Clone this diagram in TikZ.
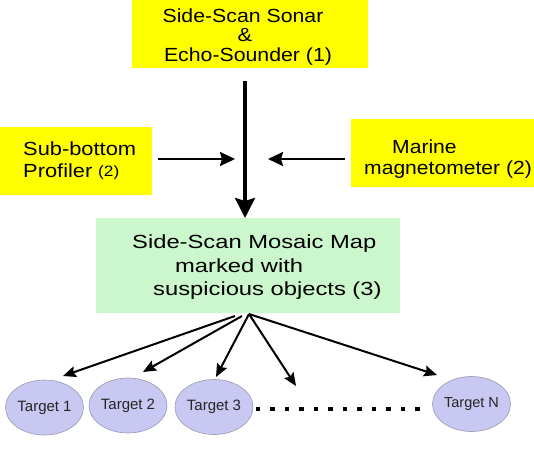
\documentclass[tikz,border=0pt]{standalone}
\usepackage{fontspec}
\usepackage{graphicx}
\setmainfont{Liberation Sans}
\usetikzlibrary{arrows.meta,shapes.geometric}
\definecolor{ybox}{HTML}{FFFF00}
\definecolor{gbox}{HTML}{CCF7CC}
\definecolor{efill}{HTML}{C8C8F2}
\definecolor{eline}{HTML}{9A9AB0}
\newcommand{\sx}[2]{\scalebox{#1}[1]{#2}}
\tikzset{
  yrect/.style={fill=ybox, draw=none, inner sep=0pt, anchor=north west},
  grect/.style={fill=gbox, draw=none, inner sep=0pt, anchor=north west},
  txt/.style={inner sep=0pt, font=\fontsize{19}{19}\selectfont},
  tgt/.style={ellipse, fill=efill, draw=eline, line width=0.6pt, inner sep=0pt,
    minimum width=78pt, minimum height=55pt, font=\fontsize{15}{15}\selectfont, text=black!85},
  bigarrow/.style={line width=3.5pt, -{Stealth[length=20pt,width=20pt,inset=3pt]}},
  midarrow/.style={line width=2.2pt, -{Stealth[length=15pt,width=14pt,inset=2pt]}},
  fanarrow/.style={line width=2pt, -{Stealth[length=13pt,width=11pt,inset=2pt]}}
}
\begin{document}
\begin{tikzpicture}[x=1pt,y=-1pt]
\useasboundingbox (0,0) rectangle (534,462);
% boxes
\node[yrect, minimum width=236pt, minimum height=68pt] (src) at (132,0) {};
\node[yrect, minimum width=152pt, minimum height=68pt] (sbp) at (0,127) {};
\node[yrect, minimum width=183pt, minimum height=68pt] (mag) at (351,119) {};
\node[grect, minimum width=304pt, minimum height=95pt] (map) at (96,218) {};
% texts
\node[txt, anchor=base] (s1) at (243,23) {\sx{1.12}{Side-Scan Sonar}};
\node[txt, anchor=base] (s2) at (245,42) {\sx{1.15}{\&}};
\node[txt, anchor=base] (s3) at (248,62) {\sx{1.12}{Echo-Sounder (1)}};
\node[txt, anchor=base west] (l1) at (23,156) {\sx{1.15}{Sub-bottom}};
\node[txt, anchor=base west] (l2) at (23,178) {\sx{1.15}{Profiler}};
\node[txt, anchor=base west, font=\fontsize{15}{15}\selectfont] (l3) at (98,177) {\sx{1.15}{(2)}};
\node[txt, anchor=base west] (r1) at (392,154) {\sx{1.11}{Marine}};
\node[txt, anchor=base west] (r2) at (364,175) {\sx{1.11}{magnetometer (2)}};
\node[txt, anchor=base west] (g1) at (132,248) {\sx{1.25}{Side-Scan Mosaic Map}};
\node[txt, anchor=base west] (g2) at (175,272) {\sx{1.25}{marked with}};
\node[txt, anchor=base west] (g3) at (153,295) {\sx{1.25}{suspicious objects (3)}};
% targets
\node[tgt] (t1) at (44.5,407.5) {Target 1};
\node[tgt] (t2) at (128,405.5) {Target 2};
\node[tgt] (t3) at (214,407) {Target 3};
\node[tgt, font=\fontsize{14.5}{14.5}\selectfont] (tn) at (471.5,404) {Target N};
% dots
\foreach \i in {0,...,11}{
  \fill (258+\i*14.5-2.3,409-2.3) rectangle ++(4.6,4.6);
}
% connectors
\coordinate (vtop) at (245,81);
\draw[bigarrow] (vtop) -- (vtop |- map.north);
\coordinate (hl1) at (158,159);
\coordinate (hl2) at (235,159);
\coordinate (hr1) at (345,159);
\coordinate (hr2) at (268,159);
\draw[midarrow] (hl1) -- (hl2);
\draw[midarrow] (hr1) -- (hr2);
\coordinate (f0) at (249,314);
\coordinate (f1) at (235,316);
\coordinate (f2) at (242,316);
\coordinate (e1) at (63,376);
\coordinate (e2) at (143,372);
\coordinate (e3) at (216,377);
\coordinate (e4) at (296,386);
\coordinate (e5) at (437,375);
\draw[fanarrow] (f1) -- (e1);
\draw[fanarrow] (f2) -- (e2);
\draw[fanarrow] (f0) -- (e3);
\draw[fanarrow] (f0) -- (e4);
\draw[fanarrow] (f0) -- (e5);
\end{tikzpicture}
\end{document}
